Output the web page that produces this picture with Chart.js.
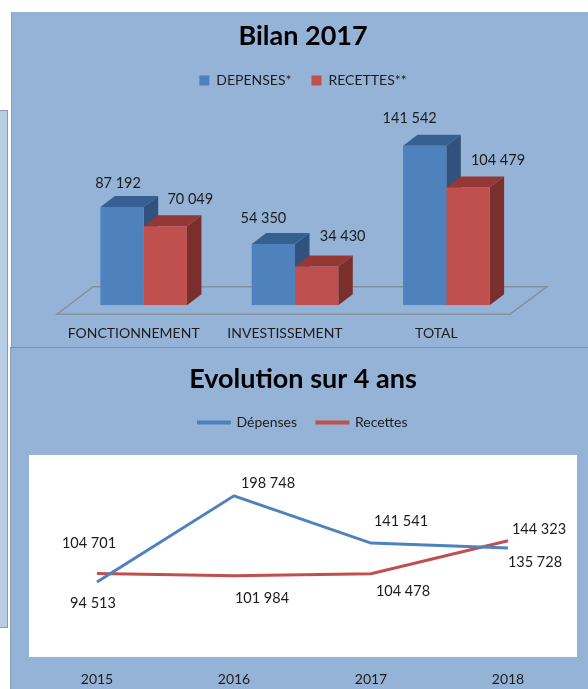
<!DOCTYPE html>
<html>
<head>
<meta charset="utf-8">
<title>Bilan 2017</title>
<script src="https://cdn.jsdelivr.net/npm/chart.js@4"></script>
<style>
    html, body { margin: 0; padding: 0; background: #fff; overflow: hidden; }
    body { width: 588px; height: 689px; position: relative; }
    .block { position: absolute; box-sizing: border-box; }
    #side-panel { left: 0; top: 110px; width: 8px; height: 518px; background: #b9cde5; border-top: 1px solid #8c9aaa; border-bottom: 1px solid #8c9aaa; border-right: 1px solid #8c9aaa; }
    #panel-bilan { left: 11px; top: 12px; width: 577px; height: 336px; background: #95b3d7; border-left: 1px solid #8aa0bb; }
    #panel-evolution { left: 10px; top: 347px; width: 578px; height: 342px; background: #95b3d7; border-top: 1px solid #7f8fa3; border-left: 1px solid #8aa0bb; }
    #plot-white { left: 29px; top: 455px; width: 548px; height: 202px; background: #fff; }
    canvas { position: absolute; }
    #bilanChart { left: 11px; top: 12px; }
    #evolutionChart { left: 10px; top: 347px; }
</style>
</head>
<body>
<div class="block" id="side-panel"></div>
<div class="block" id="panel-bilan"></div>
<div class="block" id="panel-evolution"></div>
<div class="block" id="plot-white"></div>
<canvas id="bilanChart" width="577" height="335"></canvas>
<canvas id="evolutionChart" width="578" height="342"></canvas>
<script>
// Data
const bilanCategories = ['FONCTIONNEMENT', 'INVESTISSEMENT', 'TOTAL'];
const bilanDepenses = [87192, 54350, 141542];
const bilanRecettes = [70049, 34430, 104479];

const evolutionYears = ['2015', '2016', '2017', '2018'];
const evolutionDepenses = [94513, 198748, 141541, 135728];
const evolutionRecettes = [104701, 101984, 104478, 144323];

const FONT = 'Lato, Carlito, sans-serif';
const TEXT = '#1c1c1c';
const BLUE = '#4f81bd';
const RED = '#c0504d';

// where each value label sits relative to its mark (dx, dy)
const bilanNudge = [
    [[-4, -24], [-10, -26], [-15, -28]],
    [[25, -27], [26, -30], [30, -27]]
];
const evolutionNudge = [
    [[-4, 21], [34, -12], [30, -22], [27, 14]],
    [[-8, -30], [28, 22], [32, 18], [31, -11]]
];

function formatValue(v) {
    return String(v).replace(/\B(?=(\d{3})+$)/g, ' ');
}

// Writes the value next to every mark of the chart
const valueLabels = {
    id: 'valueLabels',
    afterDatasetsDraw(chart, args, opts) {
        const ctx = chart.ctx;
        ctx.save();
        ctx.font = '14.5px ' + FONT;
        ctx.fillStyle = TEXT;
        ctx.textAlign = 'center';
        ctx.textBaseline = 'middle';
        chart.data.datasets.forEach((ds, i) => {
            chart.getDatasetMeta(i).data.forEach((el, j) => {
                const [dx, dy] = opts.nudge[i][j];
                ctx.fillText(formatValue(ds.data[j]), el.x + dx, el.y + dy);
            });
        });
        ctx.restore();
    }
};

// Fake 3D: floor, then side and top of each bar, the library draws the fronts after
const bars3d = {
    id: 'bars3d',
    beforeDatasetsDraw(chart) {
        const ctx = chart.ctx;
        const base = chart.scales.y.getPixelForValue(0);
        const area = chart.chartArea;

        ctx.save();
        ctx.strokeStyle = '#84919f';
        ctx.lineWidth = 1.5;
        ctx.beginPath();
        ctx.moveTo(area.left - 11, base + 9);
        ctx.lineTo(area.right - 12, base + 9);
        ctx.lineTo(area.right + 25, base - 18.5);
        ctx.lineTo(area.left + 25, base - 18.5);
        ctx.closePath();
        ctx.stroke();

        const depthX = 14.5;
        const depthY = 11;
        const faces = [
            { top: '#376092', side: '#30527c' },
            { top: '#953735', side: '#7b2f2d' }
        ];
        chart.data.datasets.forEach((ds, i) => {
            chart.getDatasetMeta(i).data.forEach(el => {
                const left = el.x - el.width / 2;
                const right = el.x + el.width / 2;
                ctx.fillStyle = faces[i].side;
                ctx.beginPath();
                ctx.moveTo(right, el.y);
                ctx.lineTo(right + depthX, el.y - depthY);
                ctx.lineTo(right + depthX, el.base - depthY);
                ctx.lineTo(right, el.base);
                ctx.closePath();
                ctx.fill();
                ctx.fillStyle = faces[i].top;
                ctx.beginPath();
                ctx.moveTo(left, el.y);
                ctx.lineTo(left + depthX, el.y - depthY);
                ctx.lineTo(right + depthX, el.y - depthY);
                ctx.lineTo(right, el.y);
                ctx.closePath();
                ctx.fill();
            });
        });
        ctx.restore();
    }
};

new Chart(document.getElementById('bilanChart'), {
    type: 'bar',
    data: {
        labels: bilanCategories,
        datasets: [
            { label: 'DEPENSES*', data: bilanDepenses, backgroundColor: BLUE },
            { label: 'RECETTES**', data: bilanRecettes, backgroundColor: RED }
        ]
    },
    plugins: [bars3d, valueLabels],
    options: {
        responsive: false,
        animation: false,
        layout: { padding: { left: 57, right: 50, top: 0, bottom: -15 } },
        datasets: { bar: { barPercentage: 1, categoryPercentage: 0.572 } },
        scales: {
            x: {
                grid: { display: false, drawTicks: false },
                border: { display: false },
                ticks: { color: TEXT, font: { family: FONT, size: 14 }, padding: 20, labelOffset: -10, maxRotation: 0 }
            },
            y: {
                position: 'right',
                min: 0,
                max: 184600,
                grid: { display: false, drawTicks: false },
                border: { display: false },
                ticks: { display: false },
                afterFit(scale) { scale.width = 16; }
            }
        },
        plugins: {
            title: {
                display: true,
                text: 'Bilan 2017',
                color: '#000',
                font: { family: FONT, size: 27, weight: 'bold' },
                padding: { top: 8, bottom: 1 }
            },
            legend: {
                labels: { color: TEXT, font: { family: FONT, size: 14 }, boxWidth: 10, boxHeight: 10, padding: 20 }
            },
            tooltip: { enabled: false },
            valueLabels: { nudge: bilanNudge }
        }
    }
});

new Chart(document.getElementById('evolutionChart'), {
    type: 'line',
    data: {
        labels: evolutionYears,
        datasets: [
            { label: 'Dépenses', data: evolutionDepenses, borderColor: BLUE, backgroundColor: BLUE, borderWidth: 3 },
            { label: 'Recettes', data: evolutionRecettes, borderColor: RED, backgroundColor: RED, borderWidth: 3 }
        ]
    },
    plugins: [valueLabels],
    options: {
        responsive: false,
        animation: false,
        layout: { padding: { left: 18.5, right: 10.5, top: 0, bottom: -10 } },
        elements: { point: { radius: 0 }, line: { tension: 0 } },
        scales: {
            x: {
                offset: true,
                grid: { display: false, drawTicks: false },
                border: { display: false },
                ticks: { color: TEXT, font: { family: FONT, size: 14 }, padding: 11 }
            },
            y: {
                position: 'right',
                min: 0,
                max: 266900,
                grid: { display: false, drawTicks: false },
                border: { display: false },
                ticks: { display: false },
                afterFit(scale) { scale.width = 1; }
            }
        },
        plugins: {
            title: {
                display: true,
                text: 'Evolution sur 4 ans',
                color: '#000',
                font: { family: FONT, size: 27, weight: 'bold' },
                padding: { top: 16, bottom: 0 }
            },
            legend: {
                labels: { color: TEXT, font: { family: FONT, size: 14 }, boxWidth: 31, boxHeight: 1, padding: 20 }
            },
            tooltip: { enabled: false },
            valueLabels: { nudge: evolutionNudge }
        }
    }
});
</script>
</body>
</html>
